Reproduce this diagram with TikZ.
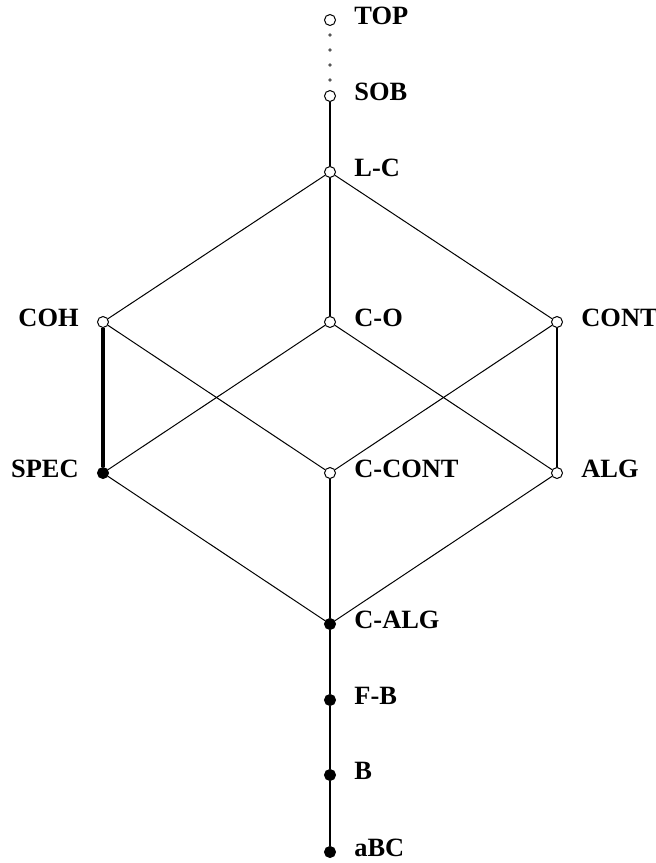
\documentclass[tikz,border=0pt]{standalone}
\usepackage{fontspec}
\setmainfont{Liberation Serif}
\usepackage{tikz}
\usepackage{xcolor}
\definecolor{dotgray}{RGB}{85, 85, 85}

\begin{document}
\begin{tikzpicture}[
  x=0.5pt, y=-0.5pt,
  font=\bfseries\fontsize{13.2}{15}\selectfont,
  openpt/.style={
    draw=black,
    fill=white,
    circle,
    line width=0.5pt,
    minimum size=5.5pt,
    inner sep=0pt,
  },
  fullpt/.style={
    draw=black,
    fill=black,
    circle,
    line width=0.5pt,
    minimum size=5.5pt,
    inner sep=0pt,
  },
  every label/.style={
    inner sep=0pt,
    yshift=2pt,
  },
  label distance=9pt,
  thinline/.style={line width=0.5pt},
  thickline/.style={line width=1.2pt},
  heavyline/.style={line width=2pt},
  dotline/.style={
    draw=dotgray,
    line width=1.9pt,
    line cap=round,
    dash pattern=on 0pt off 7.5pt,
    dash phase=3pt,
  }
]
  \useasboundingbox (0, 0) rectangle (656, 863);

  % === top of the chain ===
  \node[openpt, label=right:TOP] (top) at (330, 20) {};
  \node[openpt, label=right:SOB] (sob) at (330, 96) {};
  \node[openpt, label=right:L-C] (lc) at (330, 172) {};

  % === middle row ===
  \node[openpt, label=left:COH] (coh) at (103, 322) {};
  \node[openpt, label=right:C-O] (co) at (330, 322) {};
  \node[openpt, label=right:CONT] (cont) at (557, 322) {};

  % === lower row ===
  \node[fullpt, label=left:SPEC] (spec) at (103, 473) {};
  \node[openpt, label=right:C-CONT] (ccont) at (330, 473) {};
  \node[openpt, label=right:ALG] (alg) at (557, 473) {};

  % === bottom of the chain ===
  \node[fullpt, label=right:C-ALG] (calg) at (330, 624) {};
  \node[fullpt, label=right:F-B] (fb) at (330, 700) {};
  \node[fullpt, label=right:B] (b) at (330, 775) {};
  \node[fullpt, label=right:aBC] (abc) at (330, 852) {};

  % Lines: dotted TOP--SOB, thick chain, thin cube edges
  \draw[dotline] (top) -- (sob);
  \draw[thickline] (sob) -- (lc);
  \draw[thickline] (lc) -- (co);
  \draw[thinline] (lc) -- (coh);
  \draw[thinline] (lc) -- (cont);

  \draw[heavyline] (coh) -- (spec);
  \draw[thinline] (coh) -- (ccont);
  \draw[thinline] (co) -- (spec);
  \draw[thinline] (co) -- (alg);
  \draw[thinline] (cont) -- (ccont);
  \draw[line width=1pt] (cont) -- (alg);

  \draw[thinline] (spec) -- (calg);
  \draw[thinline] (alg) -- (calg);
  \draw[thickline] (ccont) -- (calg);
  \draw[thickline] (calg) -- (fb);
  \draw[thickline] (fb) -- (b);
  \draw[thickline] (b) -- (abc);

\end{tikzpicture}
\end{document}
